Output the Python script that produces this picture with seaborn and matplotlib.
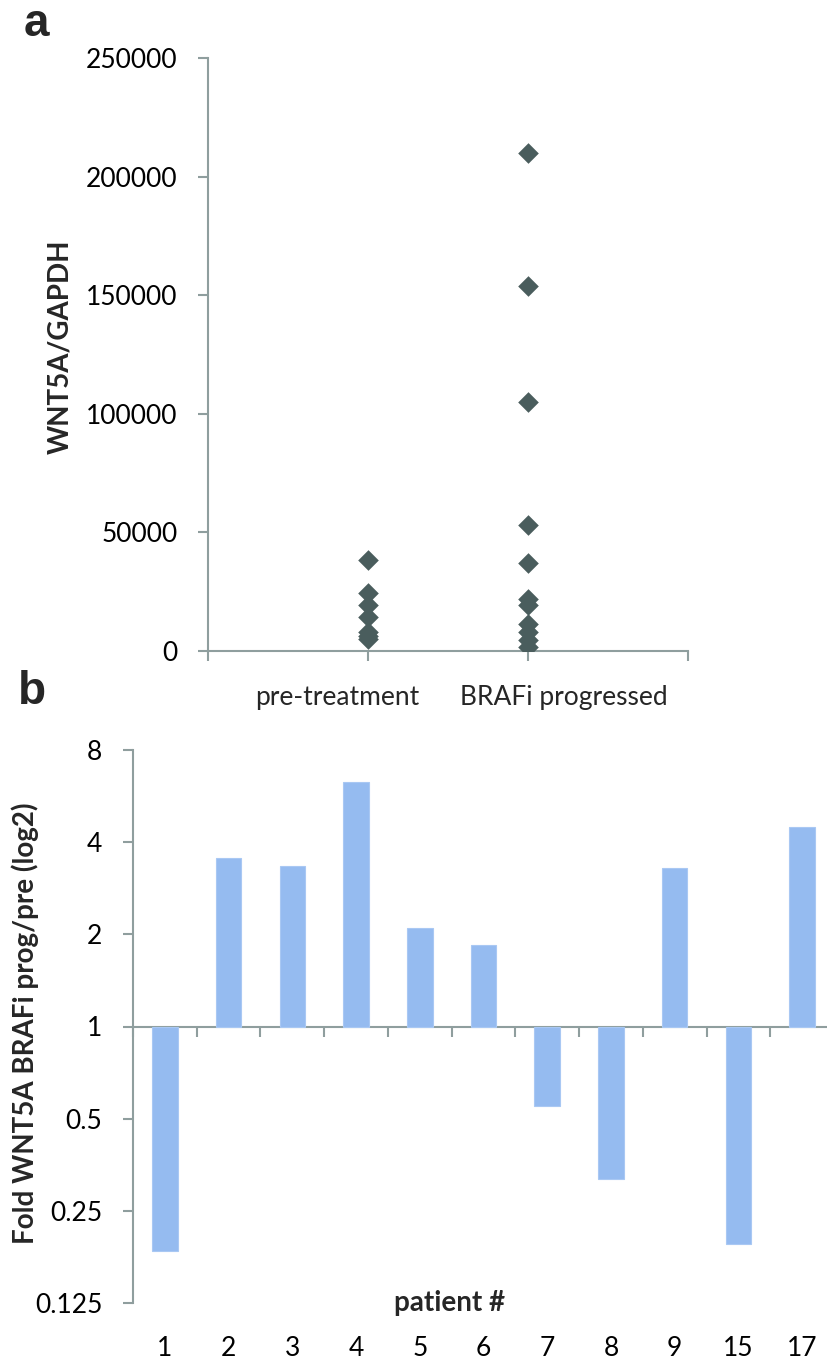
import numpy as np
import pandas as pd
import matplotlib
matplotlib.use("Agg")
import matplotlib.pyplot as plt
import matplotlib.transforms as mtransforms
import seaborn as sns

# ---- data -------------------------------------------------------------
groups = ["pre-treatment", "BRAFi progressed"]
pre_values = [38500, 24500, 19500, 14500, 8000, 6500, 5000]
prog_values = [210000, 154000, 105000, 53000, 37000, 22000, 19500,
               11500, 8000, 4500, 1500]

patients = ["1", "2", "3", "4", "5", "6", "7", "8", "9", "15", "17"]
fold_change = [0.185, 3.55, 3.35, 6.3, 2.09, 1.85, 0.55, 0.317, 3.29,
               0.195, 4.48]

a_yticks = [0, 50000, 100000, 150000, 200000, 250000]
b_yticks = [0.125, 0.25, 0.5, 1, 2, 4, 8]

# ---- style ------------------------------------------------------------
sns.set_theme(style="white")
plt.rcParams["font.family"] = ["Lato", "DejaVu Sans"]
AXIS = "#8f9e9e"
DIAMOND = "#4a5d5d"
BAR = "#95bbf0"
TICK_FS = 19
LABEL_FS = 20
PANEL_FONT = ["Liberation Sans", "DejaVu Sans"]

W, H = 828, 1362
fig = plt.figure(figsize=(W / 100, H / 100), dpi=100)


def rect(x0, y0, x1, y1):
    return [x0 / W, 1 - y1 / H, (x1 - x0) / W, (y1 - y0) / H]


# ---- panel a: scatter of expression per group -------------------------
ax_a = fig.add_axes(rect(208, 58, 688, 651))
df_a = pd.DataFrame({
    "group": [groups[0]] * len(pre_values) + [groups[1]] * len(prog_values),
    "value": pre_values + prog_values,
})
sns.stripplot(data=df_a, x="group", y="value", order=groups, jitter=False,
              marker="D", size=10.5, color=DIAMOND, linewidth=0, ax=ax_a,
              zorder=3)
ax_a.set_xlim(-1, 2)
ax_a.set_ylim(0, 250000)
ax_a.set_yticks(a_yticks)
ax_a.set_yticklabels([str(v) for v in a_yticks], fontsize=TICK_FS)
ax_a.set_xticks([-1, 0, 1, 2])
ax_a.set_xticklabels([])
ax_a.set_xlabel("")
ax_a.set_ylabel("")
for side in ("top", "right"):
    ax_a.spines[side].set_visible(False)
for side in ("left", "bottom"):
    ax_a.spines[side].set_color(AXIS)
    ax_a.spines[side].set_linewidth(1.5)
ax_a.tick_params(axis="both", direction="out", length=7, width=1.5,
                 color=AXIS, bottom=True, left=True, pad=15,
                 labelcolor="black")
ax_a.spines["bottom"].set_zorder(2)

blend_a = mtransforms.blended_transform_factory(ax_a.transData, ax_a.transAxes)
ax_a.text(-0.19, -0.078, groups[0], transform=blend_a, ha="center",
          va="center", fontsize=TICK_FS)
ax_a.text(1.225, -0.078, groups[1], transform=blend_a, ha="center",
          va="center", fontsize=TICK_FS)

fig.text(60 / W, 1 - 347 / H, "WNT5A/GAPDH", rotation=90, ha="center",
         va="center", fontsize=LABEL_FS, fontweight="bold")
fig.text(24 / W, 1 - 24 / H, "a", fontsize=33, fontweight="bold",
         family=PANEL_FONT, ha="left", va="center")

# ---- panel b: fold change per patient (log2 axis) --------------------
ax_b = fig.add_axes(rect(133, 750, 834, 1303))
df_b = pd.DataFrame({"patient": patients,
                     "log2fc": np.log2(fold_change)})
sns.barplot(data=df_b, x="patient", y="log2fc", order=patients,
            color=BAR, width=0.4, saturation=1, edgecolor="#a9c8f3",
            linewidth=0.8, ax=ax_b, zorder=2)
ax_b.set_xlim(-0.5, len(patients) - 0.5)
ax_b.set_ylim(-3, 3)
ax_b.set_yticks(np.log2(b_yticks))
ax_b.set_yticklabels([f"{v:g}" for v in b_yticks], fontsize=TICK_FS)
ax_b.set_ylabel("")
ax_b.set_xlabel("")
ax_b.set_xticks(range(len(patients)))
ax_b.set_xticklabels(patients, fontsize=TICK_FS)
ax_b.tick_params(axis="x", length=0, pad=24, labelcolor="black")
ax_b.tick_params(axis="y", direction="out", length=7, width=1.5,
                 color=AXIS, left=True, pad=15, labelcolor="black")
for side in ("top", "right", "bottom"):
    ax_b.spines[side].set_visible(False)
ax_b.spines["left"].set_color(AXIS)
ax_b.spines["left"].set_linewidth(1.5)

# category axis through fold change = 1, with ticks between patients
sec = ax_b.secondary_xaxis(0, transform=ax_b.transData)
sec.set_xticks(np.arange(-0.5, len(patients), 1.0))
sec.tick_params(axis="x", direction="out", length=7, width=1.5, color=AXIS,
                labelbottom=False)
sec.spines["bottom"].set_color(AXIS)
sec.spines["bottom"].set_linewidth(1.5)

ax_b.text(0.452, 0.0, "patient #", transform=ax_b.transAxes, ha="center",
          va="center", fontsize=LABEL_FS, fontweight="bold")

fig.text(25 / W, 1 - 1023 / H, "Fold WNT5A BRAFi prog/pre (log2)",
         rotation=90, ha="center", va="center", fontsize=LABEL_FS,
         fontweight="bold")
fig.text(18 / W, 1 - 692 / H, "b", fontsize=33, fontweight="bold",
         family=PANEL_FONT, ha="left", va="center")

fig.savefig("out.png", dpi=100, facecolor="white")
